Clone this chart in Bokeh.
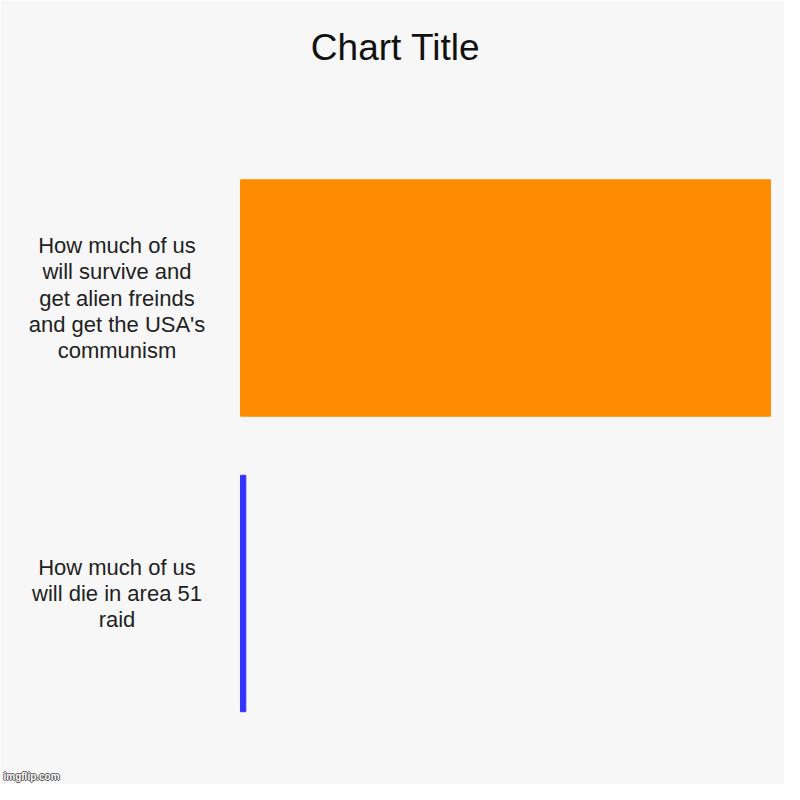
from bokeh.plotting import figure
from bokeh.models import Range1d, Label, ColumnDataSource
from bokeh.core.properties import value
from bokeh.embed import file_html
from bokeh.resources import INLINE

# chart data
categories = [
    "How much of us\nwill survive and\nget alien freinds\nand get the USA's\ncommunism",
    "How much of us\nwill die in area 51\nraid",
]
amounts = [100, 1]
colors = ["#ff8c00", "#3333ff"]
title_text = "Chart Title"

BG = "#f7f7f7"
FONT = "Liberation Sans"

positions = list(range(len(categories)))
source = ColumnDataSource(data=dict(
    pos=positions, amount=amounts, color=colors, label=categories,
    label_x=[-23.3] * len(categories),
))

# plot frame covers the whole figure; ranges chosen so the bars sit where the original has them
p = figure(width=784, height=784, output_backend="svg", toolbar_location=None,
           x_range=Range1d(-45.28, 102.64), y_range=Range1d(1.6464, -1.0068),
           min_border=0)
p.background_fill_color = BG
p.border_fill_color = BG
p.outline_line_color = None
p.grid.visible = False
p.axis.visible = False

p.hbar(y="pos", left=0, right="amount", height=0.8, color="color", source=source)

p.text(x="label_x", y="pos", text="label", source=source,
       text_align="center", text_baseline="middle", text_font=value(FONT),
       text_font_size="22px", text_color="#222222", text_line_height=1.05)

p.add_layout(Label(x=395, y=737, x_units="screen", y_units="screen", text=title_text,
                   text_align="center", text_baseline="middle", text_font=FONT,
                   text_font_size="37px", text_color="#111111"))

# watermark, white text with a dark outline
for dx, dy in [(-1, 0), (1, 0), (0, -1), (0, 1)]:
    p.add_layout(Label(x=3 + dx, y=3 + dy, x_units="screen", y_units="screen",
                       text="imgflip.com", text_font=FONT, text_font_size="10px",
                       text_font_style="bold", text_color="#555555"))
p.add_layout(Label(x=3, y=3, x_units="screen", y_units="screen",
                   text="imgflip.com", text_font=FONT, text_font_size="10px",
                   text_font_style="bold", text_color="white"))

open("out.html", "w").write(file_html(p, INLINE))
